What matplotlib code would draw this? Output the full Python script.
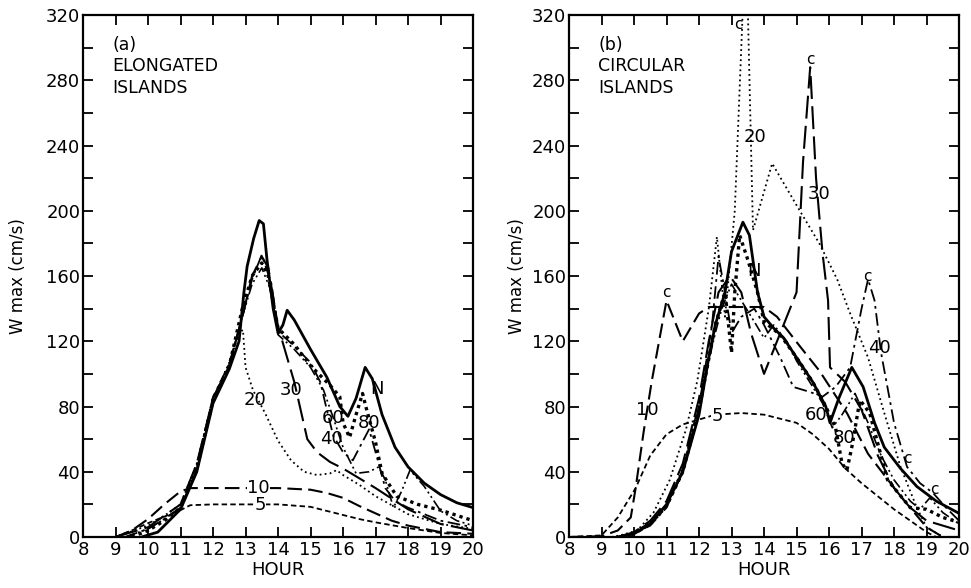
import matplotlib
matplotlib.use("Agg")
import matplotlib.pyplot as plt

# ─── Data ─────────────────────────────────────────────────────────────────────
# Panel (a): elongated islands
A_N_h = [9.8, 10.3, 11.0, 11.5, 12.0, 12.5, 12.8, 12.95, 13.05, 13.25, 13.42, 13.55, 13.66,
         13.85, 14.0, 14.15, 14.28, 14.5, 15.0, 15.5, 15.9, 16.15, 16.4, 16.68, 16.9, 17.2,
         17.6, 18.0, 18.5, 19.0, 19.5, 20.0]
A_N_v = [0, 3, 17, 40, 82, 103, 120, 150, 166, 183, 194, 192, 170,
         140, 125, 130, 139, 133, 115, 98, 80, 74, 85, 104, 97, 75,
         55, 43, 33, 26, 21, 18]

A_5_h = [9.0, 9.5, 10.0, 10.5, 11.0, 11.3, 12.0, 13.0, 14.0, 15.0, 15.5, 16.0, 16.5, 17.0, 18.0, 19.0, 20.0]
A_5_v = [0, 4, 8.5, 12.5, 16.5, 19.5, 20, 20, 20, 18.5, 16, 13.5, 11, 9, 5.5, 2.5, 1]

A_10_h = [9.0, 9.5, 10.0, 10.5, 11.0, 11.3, 12.0, 13.0, 14.0, 15.0, 15.5, 16.0, 16.5, 17.0, 17.5, 18.0, 19.0, 20.0]
A_10_v = [0, 4, 11, 20, 28, 30, 30, 30, 30, 29, 27, 24, 19, 14.5, 10, 7, 3, 2]

A_20_h = [9.0, 10.0, 10.5, 11.0, 11.5, 12.0, 12.5, 12.8, 12.92, 13.0, 13.23, 13.6, 14.0, 14.4,
          14.8, 15.2, 15.6, 15.8, 16.0, 16.5, 17.0, 18.0, 19.0, 20.0]
A_20_v = [0, 7, 13, 20, 45, 85, 107, 125, 127, 104, 90, 76, 59, 47,
          40, 38, 39, 41, 38, 32, 25, 14, 8, 5]

A_30_h = [9.0, 10.0, 10.5, 11.0, 11.5, 12.0, 12.5, 12.9, 13.2, 13.5, 13.7, 14.0, 14.5, 14.9,
          15.2, 15.6, 16.0, 17.0, 18.0, 19.0, 20.0]
A_30_v = [0, 6, 13, 20, 45, 85, 105, 135, 160, 172, 165, 129, 95, 60,
          52, 46, 42, 30, 17, 8, 4]

A_40_h = [9.3, 10.0, 10.5, 11.0, 11.5, 12.0, 12.5, 12.9, 13.2, 13.5, 13.8, 14.0, 14.5, 15.0,
          15.3, 15.5, 15.7, 16.0, 16.3, 16.8, 17.0, 17.3, 17.6, 18.0, 18.5, 19.0, 20.0]
A_40_v = [0, 5, 11, 18, 42, 86, 106, 135, 158, 173, 155, 126, 117, 107,
          95, 78, 62, 52, 47, 66, 52, 30, 22, 18, 14, 10, 6]

A_60_h = [9.3, 10.0, 10.5, 11.0, 11.5, 12.0, 12.5, 12.9, 13.2, 13.5, 13.8, 14.0, 14.5, 15.0,
          15.4, 15.7, 16.0, 16.4, 16.8, 17.1, 17.3, 17.55, 17.8, 18.06, 18.5, 19.0, 19.5, 20.0]
A_60_v = [0, 5, 11, 18, 40, 85, 106, 135, 155, 165, 150, 124, 115, 104,
          90, 73, 55, 39, 40, 43, 35, 18, 28, 41, 31, 16, 10, 7]

A_80_h = [9.5, 10.0, 10.5, 11.0, 11.5, 12.0, 12.5, 12.9, 13.2, 13.5, 13.7, 14.0, 14.5, 15.0,
          15.6, 15.9, 16.0, 16.2, 16.4, 16.6, 16.7, 17.0, 17.2, 17.65, 18.3, 19.0, 20.0]
A_80_v = [0, 4, 10, 18, 42, 84, 105, 140, 160, 168, 160, 128, 118, 105,
          93, 86, 70, 61, 75, 88, 80, 58, 39, 25, 20, 16.5, 10]

# Panel (b): circular islands
B_N_h = [9.5, 10.0, 10.5, 11.0, 11.5, 12.0, 12.3, 12.5, 12.8, 13.0, 13.35, 13.55, 13.8, 14.0,
         14.3, 14.6, 15.0, 15.5, 15.9, 16.03, 16.3, 16.7, 17.05, 17.4, 17.7, 18.2, 18.7, 19.3, 20.0]
B_N_v = [0, 2, 8, 20, 40, 75, 110, 130, 150, 175, 193, 185, 150, 135,
         128, 122, 110, 95, 80, 70, 85, 104, 92, 70, 55, 42, 31, 22, 14.5]

B_5_h = [8.0, 9.0, 9.5, 10.05, 10.5, 11.0, 11.5, 12.0, 12.5, 13.3, 14.0, 15.0, 15.5, 16.0,
         16.5, 17.0, 17.5, 18.0, 18.5, 19.0, 19.3, 20.0]
B_5_v = [0, 1, 12, 30, 50, 63, 69, 72, 75, 76, 75, 70, 63, 54,
         42, 33, 25, 17, 10, 3, 0, 0]

B_10_h = [8.0, 9.0, 9.5, 9.9, 10.05, 10.3, 10.55, 11.0, 11.5, 12.0, 12.3, 13.0, 14.0, 14.4,
          15.1, 15.7, 16.55, 17.2, 18.2, 19.0, 19.5, 20.0]
B_10_v = [0, 0.5, 4, 12, 30, 65, 96, 145, 120, 137, 141, 141, 141, 135,
          117, 102, 76, 51, 25, 6, 0, 0]

B_20_h = [9.3, 9.57, 10.1, 10.6, 11.1, 11.6, 11.95, 12.3, 12.55, 12.8, 13.1, 13.35, 13.5,
          13.66, 14.25, 15.1, 15.7, 16.25, 16.65, 17.2, 17.7, 18.2, 18.7, 19.0, 19.5, 20.0]
B_20_v = [0, 1, 4, 15, 35, 66, 96, 140, 184, 135, 200, 325, 325,
          188, 229, 200, 180, 158, 137, 110, 76, 43, 18, 6, 0, 0]

B_30_h = [9.5, 10.0, 10.5, 11.0, 11.5, 12.0, 12.3, 12.6, 12.95, 13.3, 13.6, 14.0, 14.5, 15.0,
          15.2, 15.42, 15.6, 15.8, 15.97, 16.03, 16.5, 17.0, 17.5, 18.0, 18.5, 19.0, 20.0]
B_30_v = [0, 3, 10, 22, 45, 85, 120, 150, 160, 150, 125, 100, 125, 150,
          230, 288, 220, 174, 145, 104, 95, 78, 50, 30, 18, 10, 4]

B_40_h = [9.7, 10.0, 10.5, 11.0, 11.5, 12.0, 12.4, 12.6, 12.8, 13.0, 13.3, 13.7, 14.0, 14.5,
          14.9, 15.4, 15.8, 16.2, 16.65, 17.0, 17.2, 17.4, 17.6, 18.0, 18.4, 18.8, 19.2, 19.6, 20.0]
B_40_v = [0, 2, 7, 18, 40, 80, 130, 172, 150, 125, 135, 140, 130, 110,
          92, 89, 86, 92, 104, 140, 158, 145, 113, 70, 43, 33, 27, 18, 10]

B_60_h = [9.5, 10.0, 10.5, 11.0, 11.5, 12.0, 12.5, 12.7, 13.0, 13.3, 13.7, 14.0, 14.3, 14.7,
          15.0, 15.5, 15.8, 16.1, 16.4, 16.8, 17.2, 17.6, 18.0, 18.5, 18.8, 19.1, 19.5, 20.0]
B_60_v = [0, 3, 9, 20, 42, 82, 125, 140, 155, 145, 132, 122, 130, 120,
          108, 92, 82, 67, 75, 88, 70, 50, 35, 22, 17, 24, 15, 8]

B_80_h = [9.7, 10.0, 10.5, 11.0, 11.5, 12.0, 12.5, 12.8, 13.0, 13.1, 13.25, 13.5, 13.8, 14.0,
          14.5, 15.0, 15.5, 15.9, 16.2, 16.4, 16.55, 16.7, 16.95, 17.25, 17.8, 18.5, 19.0, 19.5, 20.0]
B_80_v = [0, 2, 8, 19, 40, 78, 130, 150, 113, 150, 185, 170, 150, 132,
          124, 110, 95, 80, 67, 45, 41, 55, 84, 76, 35, 18, 17, 12, 9]

# curve labels: (text, hour, value)
A_LABELS = [("20", 13.3, 84), ("30", 14.4, 90), ("60", 15.7, 73), ("40", 15.65, 60),
            ("80", 16.8, 70), ("N", 17.05, 91)]
A_INLINE = [("10", 13.4, 30), ("5", 13.45, 19.5)]
B_LABELS = [("20", 13.72, 245), ("30", 15.7, 210), ("N", 13.7, 163), ("40", 17.55, 116),
            ("10", 10.4, 78), ("60", 15.6, 75), ("80", 16.45, 61)]
B_INLINE = [("5", 12.55, 74)]
C_MARKS = [(13.2, 314), (15.42, 293), (11.0, 150), (17.17, 160), (18.4, 48), (19.25, 29)]

# ─── Styles ──────────────────────────────────────────────────────────────────
STY = {
    "N":  dict(color="black", lw=2.0, linestyle="-"),
    "5":  dict(color="black", lw=1.3, linestyle=(0, (3, 1.8))),
    "10": dict(color="black", lw=1.5, linestyle=(0, (7, 3))),
    "20": dict(color="black", lw=1.3, linestyle=(0, (1, 1.8))),
    "30": dict(color="black", lw=1.5, linestyle=(0, (11, 3.5))),
    "40": dict(color="black", lw=1.3, linestyle=(0, (7, 2.5, 1.5, 2.5))),
    "60": dict(color="black", lw=1.2, linestyle=(0, (6, 2, 1.2, 2, 1.2, 2))),
    "80": dict(color="black", lw=2.4, linestyle=(0, (1, 1.2))),
}

fig = plt.figure(figsize=(9.71, 5.88), dpi=100)
axa = fig.add_axes([0.0855, 0.0867, 0.4017, 0.8878])
axb = fig.add_axes([0.586, 0.0867, 0.4017, 0.8878])


def style_axis(ax, ypad):
    ax.set_xlim(8, 20)
    ax.set_ylim(0, 320)
    ax.set_xticks(range(8, 21))
    ax.set_yticks(range(0, 321, 40))
    ax.set_yticks(range(20, 321, 40), minor=True)
    ax.tick_params(which="both", direction="in", top=True, right=True,
                   length=7, width=1.3, labelsize=13, pad=3)
    ax.tick_params(axis="y", pad=2)
    for s in ax.spines.values():
        s.set_linewidth(1.6)
    ax.set_xlabel("HOUR", fontsize=13, labelpad=1)
    ax.set_ylabel("W max (cm/s)", fontsize=12, labelpad=ypad)


# Panel (a)
for key, h, v in [("5", A_5_h, A_5_v), ("10", A_10_h, A_10_v), ("20", A_20_h, A_20_v),
                  ("30", A_30_h, A_30_v), ("40", A_40_h, A_40_v), ("60", A_60_h, A_60_v),
                  ("80", A_80_h, A_80_v), ("N", A_N_h, A_N_v)]:
    axa.plot(h, v, **STY[key])
for t, x, y in A_LABELS:
    axa.text(x, y, t, fontsize=13, ha="center", va="center")
for t, x, y in A_INLINE:
    axa.text(x, y, t, fontsize=13, ha="center", va="center", zorder=5,
             bbox=dict(facecolor="white", edgecolor="none", pad=0.2))
axa.text(0.075, 0.96, "(a)\nELONGATED\nISLANDS", transform=axa.transAxes,
         fontsize=12.5, ha="left", va="top", linespacing=1.25)
style_axis(axa, 14)

# Panel (b)
for key, h, v in [("5", B_5_h, B_5_v), ("10", B_10_h, B_10_v), ("20", B_20_h, B_20_v),
                  ("30", B_30_h, B_30_v), ("40", B_40_h, B_40_v), ("60", B_60_h, B_60_v),
                  ("80", B_80_h, B_80_v), ("N", B_N_h, B_N_v)]:
    axb.plot(h, v, **STY[key])
for t, x, y in B_LABELS:
    axb.text(x, y, t, fontsize=13, ha="center", va="center")
for t, x, y in B_INLINE:
    axb.text(x, y, t, fontsize=13, ha="center", va="center", zorder=5,
             bbox=dict(facecolor="white", edgecolor="none", pad=0.2))
for x, y in C_MARKS:
    axb.text(x, y, "c", fontsize=11, ha="center", va="center")
axb.text(0.075, 0.96, "(b)\nCIRCULAR\nISLANDS", transform=axb.transAxes,
         fontsize=12.5, ha="left", va="top", linespacing=1.25)
style_axis(axb, 4)

fig.savefig("out.png", dpi=100)
